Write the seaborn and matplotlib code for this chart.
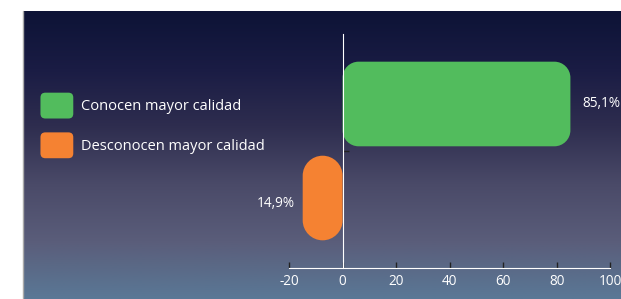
import matplotlib
matplotlib.use('Agg')
import matplotlib.pyplot as plt
import numpy as np
import pandas as pd
import seaborn as sns
from matplotlib.patches import PathPatch, FancyBboxPatch, Patch
from matplotlib.path import Path
from matplotlib.legend_handler import HandlerPatch
from matplotlib.colors import LinearSegmentedColormap

## datos
categorias = ['Conocen mayor calidad', 'Desconocen mayor calidad']
valores = [85.1, -14.9]
etiquetas = ['85,1%', '14,9%']
colores = ['#52bc5d', '#f58232']
xticks = [-20, 0, 20, 40, 60, 80, 100]

sns.set_style('white')
plt.rcParams['font.family'] = ['Open Sans', 'DejaVu Sans']

fig = plt.figure(figsize=(6.21, 2.99), dpi=100)
ax = fig.add_axes([24/621, 0, 1 - 24/621, 288/299])

df = pd.DataFrame({'cat': categorias, 'val': valores})
sns.barplot(data=df, x='val', y='cat', hue='cat', palette=colores, orient='h',
            width=0.9, saturation=1, legend=False, ax=ax)

## fondo degradado
fondo = LinearSegmentedColormap.from_list('fondo', ['#0d1336', '#1a1c44', '#2e2d4f', '#4a4a68', '#5a5d7a', '#5a7896'])
grad = np.linspace(0, 1, 256).reshape(-1, 1)
ax.imshow(grad, extent=[0, 1, 0, 1], transform=ax.transAxes, aspect='auto', cmap=fondo, origin='upper', zorder=0)

ax.set_xlim(-119, 104)
ax.set_ylim(2.074, -0.989)

## rectangulo redondeado (esquinas circulares en pixeles)
def redondeado(x0, y0, w, h, rx, ry):
    k = 0.5523
    x1, y1 = x0 + w, y0 + h
    v = [(x0 + rx, y0), (x1 - rx, y0),
         (x1 - rx + k * rx, y0), (x1, y0 + ry - k * ry), (x1, y0 + ry),
         (x1, y1 - ry),
         (x1, y1 - ry + k * ry), (x1 - rx + k * rx, y1), (x1 - rx, y1),
         (x0 + rx, y1),
         (x0 + rx - k * rx, y1), (x0, y1 - ry + k * ry), (x0, y1 - ry),
         (x0, y0 + ry),
         (x0, y0 + ry - k * ry), (x0 + rx - k * rx, y0), (x0 + rx, y0),
         (x0 + rx, y0)]
    c = [Path.MOVETO, Path.LINETO, Path.CURVE4, Path.CURVE4, Path.CURVE4, Path.LINETO,
         Path.CURVE4, Path.CURVE4, Path.CURVE4, Path.LINETO,
         Path.CURVE4, Path.CURVE4, Path.CURVE4, Path.LINETO,
         Path.CURVE4, Path.CURVE4, Path.CURVE4, Path.CLOSEPOLY]
    return Path(v, c)

px_x = 597 / 223.0
px_y = 288 / 3.063
radios = [16, 20]
for i, p in enumerate(list(ax.patches)):
    x0, y0, w, h = p.get_x(), p.get_y(), p.get_width(), p.get_height()
    if w < 0:
        x0, w = x0 + w, -w
    fc = p.get_facecolor()
    p.remove()
    ax.add_patch(PathPatch(redondeado(x0, y0, w, h, radios[i] / px_x, radios[i] / px_y),
                           fc=fc, ec='none', zorder=2))

## etiquetas
for i, v in enumerate(valores):
    if v >= 0:
        ax.text(v + 4.5, i, etiquetas[i], color='white', fontsize=9.8, va='center', ha='left')
    else:
        ax.text(v - 3, i + 0.06, etiquetas[i], color='white', fontsize=9.8, va='center', ha='right')

## ejes
for s in ['top', 'right']:
    ax.spines[s].set_visible(False)
ax.spines['left'].set_position(('data', 0))
ax.spines['left'].set_bounds(-0.745, 1.745)
ax.spines['left'].set_color('white')
ax.spines['left'].set_zorder(3)
ax.spines['bottom'].set_position(('data', 1.745))
ax.spines['bottom'].set_bounds(-20, 100)
ax.spines['bottom'].set_color('white')
ax.set_xticks(xticks)
ax.set_xticklabels([str(t) for t in xticks])
ax.set_yticks([0.5])
ax.set_yticklabels([''])
ax.tick_params(axis='x', direction='in', length=4, width=1, color='#222222', labelcolor='white', labelsize=9.8, pad=4, bottom=True)
ax.tick_params(axis='y', direction='in', length=4, width=1, color='#222222', left=True)
ax.set_xlabel('')
ax.set_ylabel('')

## leyenda
def caja(legend, orig_handle, xdescent, ydescent, width, height, fontsize):
    return FancyBboxPatch((-xdescent, -ydescent), width, height, boxstyle='round,pad=0,rounding_size=3.5')

handles = [Patch(facecolor=c, edgecolor='none') for c in colores]
leg = ax.legend(handles, categorias, loc='upper left', bbox_to_anchor=(0.0056, 0.762), frameon=False,
                handlelength=2.25, handleheight=2.35, handletextpad=0.5, labelspacing=0.95,
                borderpad=0.4, fontsize=10.5, labelcolor='white',
                handler_map={Patch: HandlerPatch(patch_func=caja)})

## linea gris izquierda
fig.add_artist(plt.Line2D([23/621, 23/621], [0.005, 1 - 11/299], color='#aaaaaa', lw=1))

fig.savefig('out.png', dpi=100)
